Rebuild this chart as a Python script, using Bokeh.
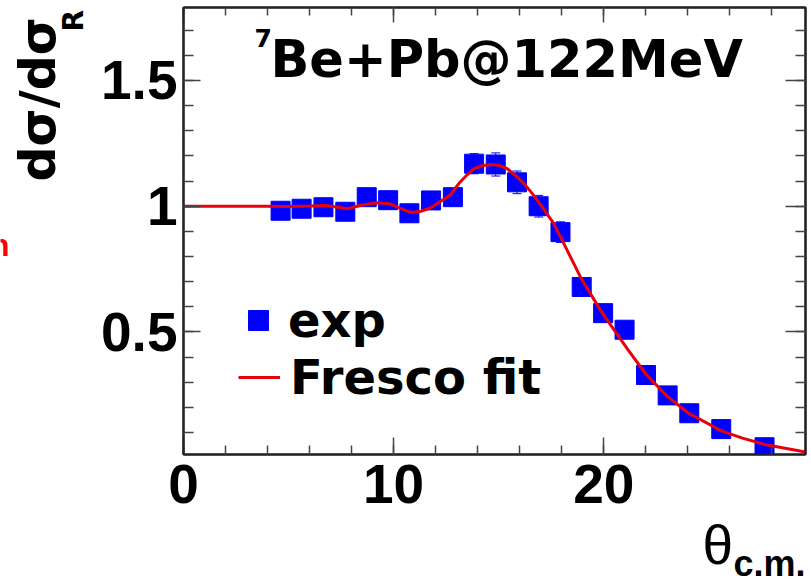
from bokeh.plotting import figure
from bokeh.models import (Label, Legend, LegendItem, LinearAxis, SingleIntervalTicker,
                          ColumnDataSource, Whisker, TeeHead, GridBox)
from bokeh.embed import file_html
from bokeh.resources import INLINE

# ---- data ----
exp_theta = [4.62, 5.62, 6.66, 7.70, 8.72, 9.74, 10.75, 11.78, 12.82, 13.83, 14.86,
             15.87, 16.90, 17.94, 18.95, 19.97, 20.99, 22.01, 23.04, 24.07, 25.59, 27.65]
exp_ratio = [0.982, 0.990, 0.996, 0.978, 1.036, 1.024, 0.972, 1.023, 1.036, 1.169, 1.166,
             1.095, 1.000, 0.897, 0.679, 0.575, 0.509, 0.329, 0.248, 0.177, 0.114, 0.042]
exp_err = [0.02, 0.02, 0.02, 0.02, 0.02, 0.02, 0.02, 0.02, 0.025, 0.04, 0.046,
           0.045, 0.043, 0.041, 0.03, 0.03, 0.03, 0.025, 0.02, 0.02, 0.015, 0.01]

fit_theta = [0, 2, 4, 5, 6, 6.8, 7.8, 8.5, 9.2, 9.8, 10.3, 10.8, 11.3, 11.8, 12.24, 12.7,
             13.1, 13.5, 13.83, 14.2, 14.62, 15.0, 15.41, 15.8, 16.21, 16.6, 17.0, 17.63,
             18.03, 18.9, 19.86, 21.13, 22.0, 23.0, 24.0, 25.6, 26.6, 27.65, 29.6]
fit_ratio = [1.0, 1.0, 1.0, 0.999, 1.001, 1.003, 0.99, 1.005, 1.014, 1.01, 0.992, 0.975,
             0.98, 0.995, 1.02, 1.045, 1.09, 1.125, 1.149, 1.161, 1.166, 1.163, 1.149,
             1.122, 1.089, 1.05, 1.005, 0.93, 0.863, 0.717, 0.584, 0.432, 0.333, 0.246,
             0.179, 0.107, 0.078, 0.053, 0.023]

y_tick_values = [0.5, 1.0, 1.5]
y_tick_labels = ["0.5", "1", "1.5"]

title_sup = "7"
title_main = "Be+Pb@122MeV"
ytitle_main = "dσ/dσ"
ytitle_sub = "R"
xtitle_main = "θ"
xtitle_sub = "c.m."
legend_labels = ["exp", "Fresco fit"]

W, H = 811, 584
FL, FB = 183, 454  # frame left / bottom in canvas px
BASE = 0.42  # empirical offset of the alphabetic baseline below the anchor (x font size)

# ---- main figure ----
p = figure(width=W, height=H, x_range=(0, 29.6), y_range=(0.013, 1.79),
           output_backend="svg", toolbar_location=None,
           min_border_left=FL, min_border_right=6, min_border_top=7,
           min_border_bottom=H - FB, x_axis_location=None, y_axis_location=None)
p.grid.visible = False
p.outline_line_color = "black"
p.outline_line_width = 2
p.background_fill_color = "white"
p.border_fill_color = None
p.border_fill_alpha = 0
p.frame_align = False

TICK_COLOR = "#444444"


def style_axis(ax, show_labels, maj, mnr):
    ax.axis_line_color = "#222222"
    ax.axis_line_width = 2
    ax.major_tick_line_color = TICK_COLOR
    ax.minor_tick_line_color = TICK_COLOR
    ax.major_tick_line_width = 1.5
    ax.minor_tick_line_width = 1.5
    ax.major_tick_in = maj
    ax.major_tick_out = 0
    ax.minor_tick_in = mnr
    ax.minor_tick_out = 0
    if show_labels:
        ax.major_label_text_font = "Liberation Sans"
        ax.major_label_text_font_style = "bold"
        ax.major_label_text_font_size = "55px"
        ax.major_label_text_color = "black"
    else:
        ax.major_label_text_font_size = "1px"
        ax.major_label_text_alpha = 0
        ax.major_label_standoff = 0


xb = LinearAxis(ticker=SingleIntervalTicker(interval=10, num_minor_ticks=5))
style_axis(xb, True, 17, 9)
xb.major_label_standoff = 10
p.add_layout(xb, "below")

xt = LinearAxis(ticker=SingleIntervalTicker(interval=10, num_minor_ticks=5))
style_axis(xt, False, 15, 8)
p.add_layout(xt, "above")

yl = LinearAxis(ticker=SingleIntervalTicker(interval=0.5, num_minor_ticks=5))
style_axis(yl, True, 17, 10)
yl.major_label_standoff = 6
yl.major_label_overrides = dict(zip(y_tick_values, y_tick_labels))
p.add_layout(yl, "left")

yr = LinearAxis(ticker=SingleIntervalTicker(interval=0.5, num_minor_ticks=5))
style_axis(yr, False, 20, 10)
p.add_layout(yr, "right")

# ---- data glyphs ----
src = ColumnDataSource(dict(
    x=exp_theta, y=exp_ratio,
    lo=[v - e for v, e in zip(exp_ratio, exp_err)],
    hi=[v + e for v, e in zip(exp_ratio, exp_err)],
))
wh = Whisker(source=src, base="x", lower="lo", upper="hi", line_color="blue", line_width=1,
             upper_head=TeeHead(size=9, line_color="blue", line_width=1),
             lower_head=TeeHead(size=9, line_color="blue", line_width=1))
p.add_layout(wh)
sq = p.scatter("x", "y", source=src, marker="square", size=19,
               fill_color="#0000ff", line_color="#0000ff")
ln = p.line(fit_theta, fit_ratio, line_color="#e8000b", line_width=3)


# ---- legends ----
def make_legend(label, r, loc, gw):
    return Legend(items=[LegendItem(label=label, renderers=[r])], location=loc,
                  border_line_color=None, background_fill_alpha=0, padding=0, margin=0,
                  spacing=0, glyph_width=gw, glyph_height=60, label_height=60,
                  label_standoff=5 if gw == 50 else 10,
                  label_text_font="DejaVu Sans", label_text_font_style="bold",
                  label_text_font_size="48px", label_text_color="black")


p.add_layout(make_legend(legend_labels[0], sq, (233 - FL, FB - 350), 50))
p.add_layout(make_legend(legend_labels[1], ln, (238 - FL, FB - 407), 42))


# ---- texts ----
def lab(text, x, y, font, size, style="bold", color="black", angle=0):
    return Label(x=x, y=y, x_units="screen", y_units="screen", text=text,
                 text_font=font, text_font_size=f"{size}px", text_font_style=style,
                 text_color=color, text_baseline="alphabetic", text_align="left",
                 angle=angle, angle_units="deg")


# inside the frame: (cx, cy) = canvas position of the baseline start
def frame_lab(text, cx, cy, font, size, **kw):
    return lab(text, cx - FL, FB - (cy - BASE * size), font, size, **kw)


p.add_layout(frame_lab(title_sup, 254, 48, "DejaVu Sans", 25))
p.add_layout(frame_lab(title_main, 270, 80, "DejaVu Sans", 51))

# ---- background canvas for the texts outside the frame ----
bg = figure(width=W, height=H, x_range=(0, W), y_range=(0, H), output_backend="svg",
            toolbar_location=None, min_border=0, x_axis_location=None,
            y_axis_location=None)
bg.grid.visible = False
bg.outline_line_color = None
bg.background_fill_color = "white"
bg.border_fill_color = "white"
bg.frame_align = False


def canvas_lab(text, cx, cy, font, size, angle=0, **kw):
    if angle == 90:
        return lab(text, cx - BASE * size, H - cy, font, size, angle=90, **kw)
    return lab(text, cx, H - (cy - BASE * size), font, size, **kw)


bg.add_layout(canvas_lab(ytitle_main, 59, 181, "DejaVu Sans", 49, angle=90))
bg.add_layout(canvas_lab(ytitle_sub, 85, 31, "DejaVu Sans", 28, angle=90))
bg.add_layout(canvas_lab("n", -10, 258, "Liberation Sans", 31, color="red"))
bg.add_layout(canvas_lab(xtitle_main, 702, 568, "Liberation Sans", 55, style="normal"))
bg.add_layout(canvas_lab(xtitle_sub, 733, 578, "Liberation Sans", 36))

grid = GridBox(children=[(bg, 0, 0), (p, 0, 0)], width=W, height=H)

open("out.html", "w").write(file_html(grid, INLINE))
